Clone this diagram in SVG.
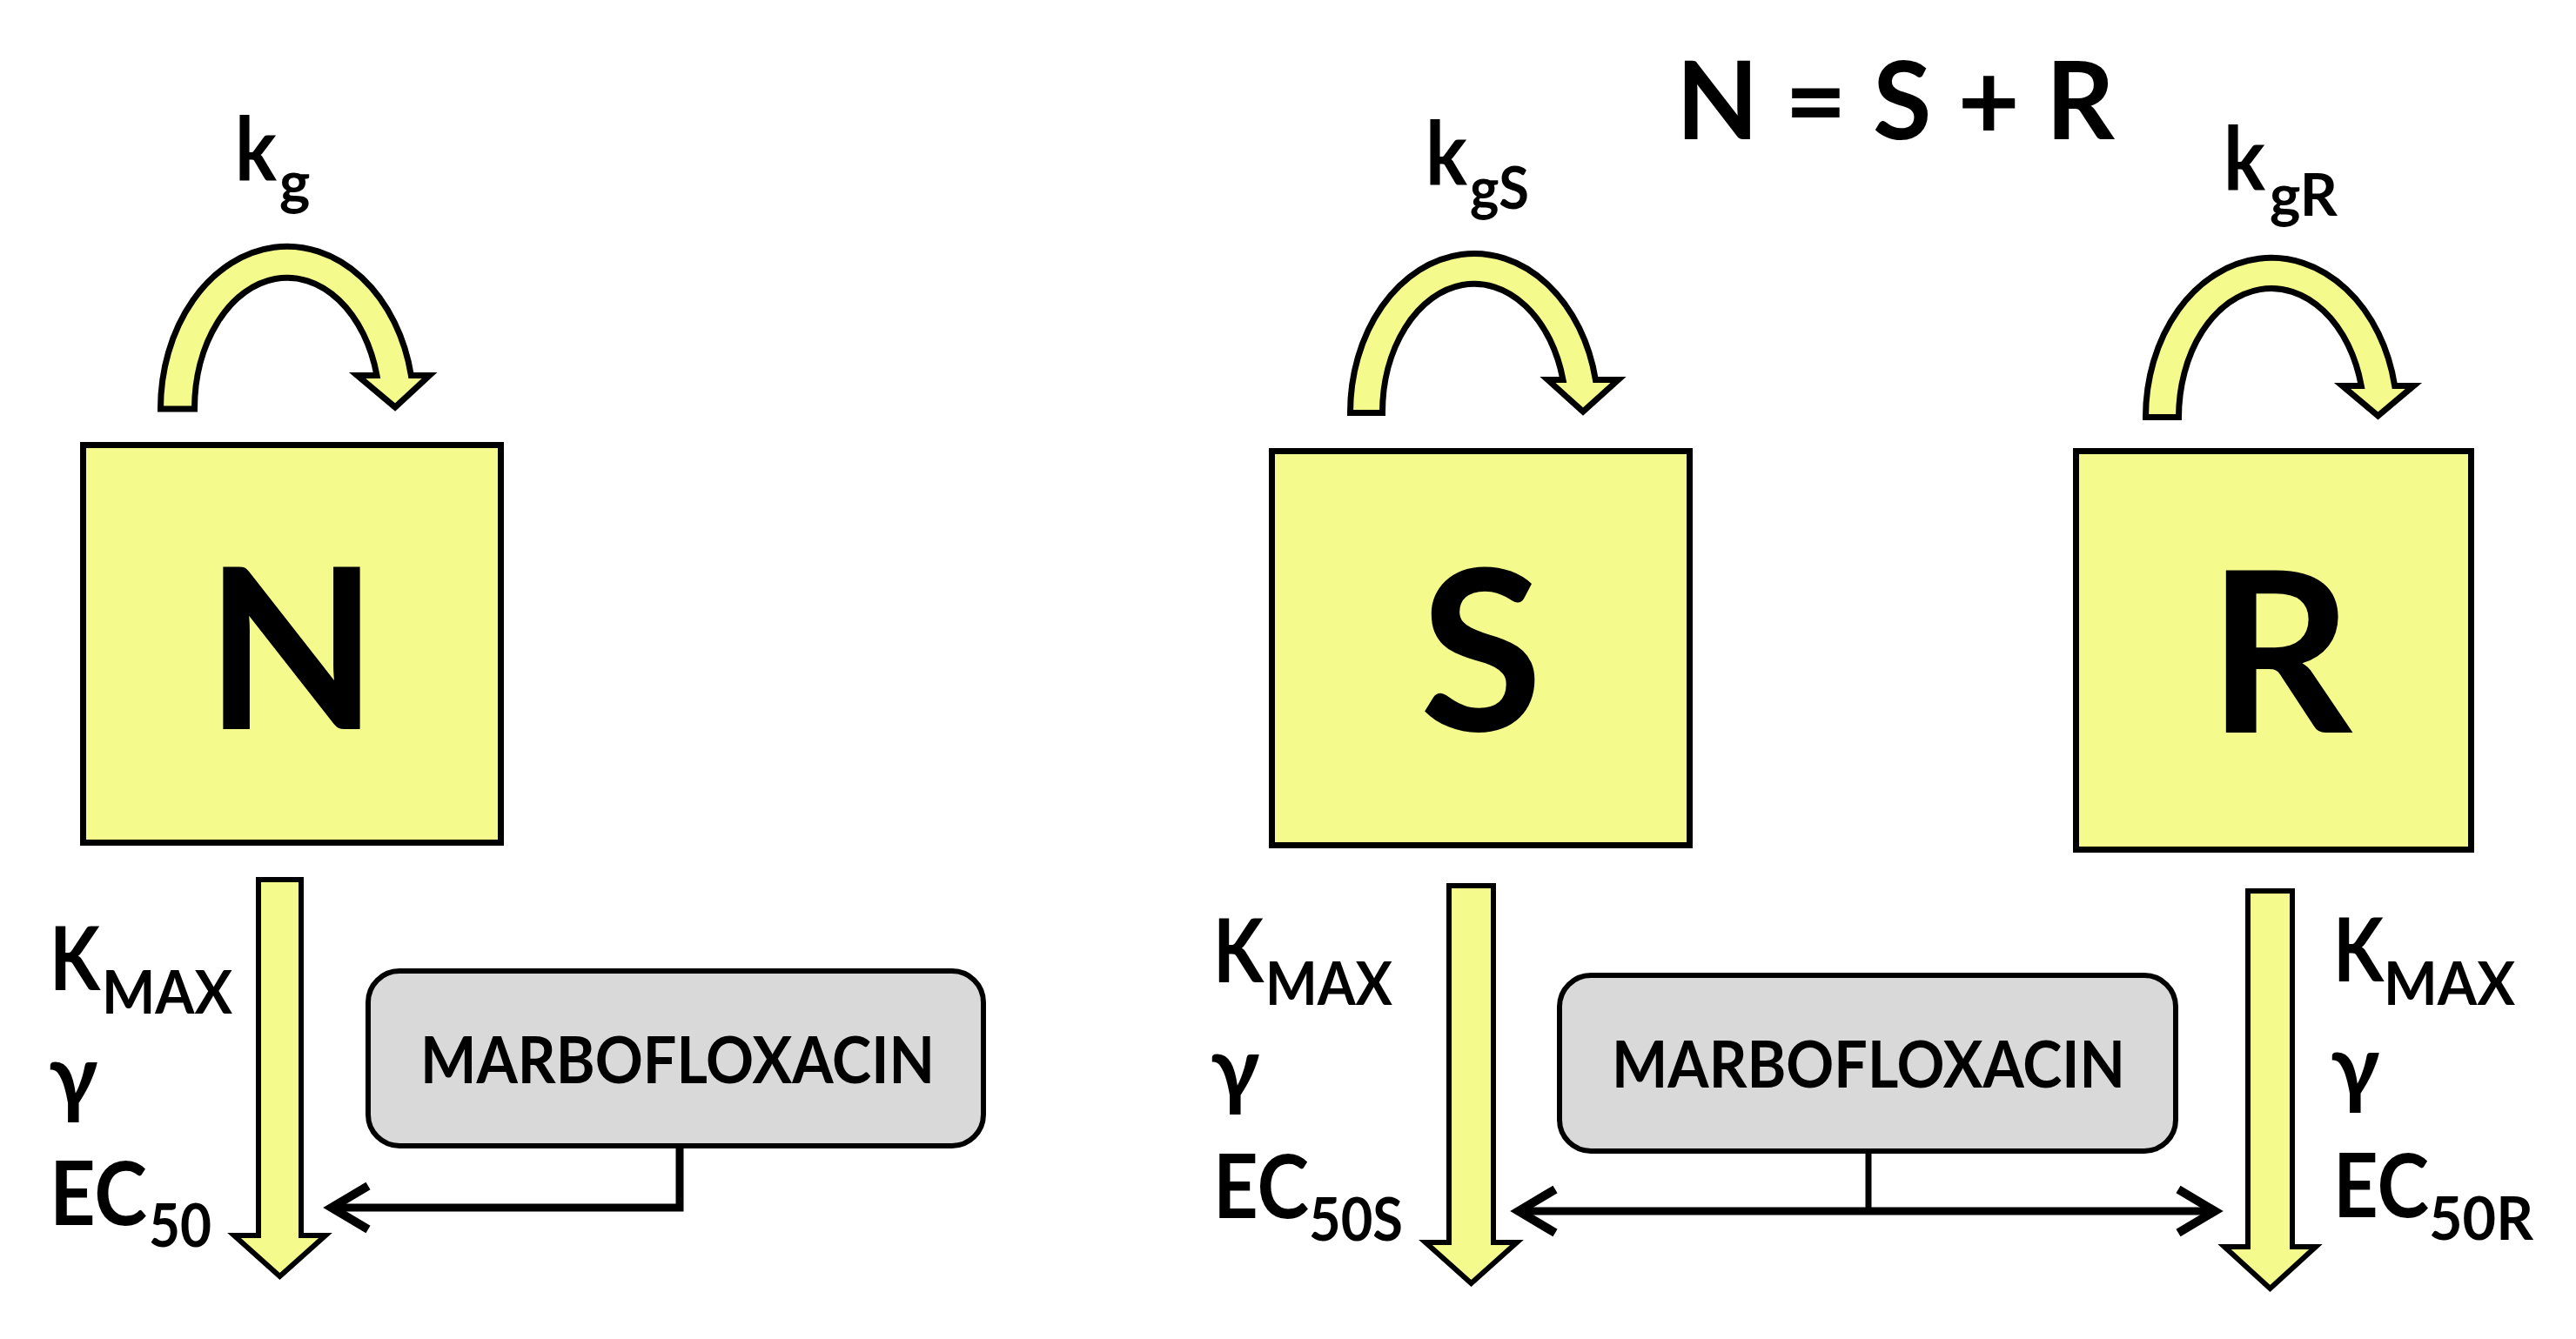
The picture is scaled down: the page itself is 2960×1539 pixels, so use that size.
<svg xmlns="http://www.w3.org/2000/svg" width="2960" height="1539" viewBox="0 0 2960 1539">
<style>
text{font-family:Lato,"Open Sans","Liberation Sans",sans-serif;font-weight:bold;fill:#000}
.box{fill:#F4FA8C;stroke:#000;stroke-width:7}
.big{font-size:258px;text-anchor:middle}
.arc{fill:#F4FA8C;stroke:#000;stroke-width:7;stroke-linejoin:miter}
.blk{fill:#F4FA8C;stroke:#000;stroke-width:6;stroke-linejoin:miter}
.drug{fill:#D9D9D9;stroke:#000;stroke-width:6}
.dtxt{font-size:74px}
.lbl{font-size:101px}
.sub{font-size:68px}
.k{font-size:102px}
.ksub{font-size:67px}
.con{fill:none;stroke:#000;stroke-width:9}
.stem{fill:none;stroke:#000;stroke-width:7}
</style>
<defs>
<marker id="chev" markerUnits="userSpaceOnUse" viewBox="-60 -40 80 80" markerWidth="80" markerHeight="80" refX="0" refY="0" orient="auto-start-reverse" overflow="visible">
<path d="M-42,-25 L0,0 L-42,25" fill="none" stroke="#000" stroke-width="10" stroke-linejoin="miter"/>
</marker>
</defs>
<text x="1926" y="160" font-size="125" textLength="504" lengthAdjust="spacingAndGlyphs">N = S + R</text>

<g id="node-N">
<rect class="box" x="95.5" y="511.5" width="480" height="457"/>
<text class="big" x="335" y="838">N</text>
</g>
<g id="node-S">
<rect class="box" x="1461.5" y="518.5" width="480" height="453"/>
<text class="big" x="1702" y="840">S</text>
</g>
<g id="node-R">
<rect class="box" x="2385.5" y="518.5" width="454" height="458"/>
<text class="big" x="2620" y="842">R</text>
</g>
<g id="drug-left">
<rect class="drug" x="423" y="1116" width="707" height="201" rx="36"/>
<text class="dtxt" x="483" y="1245" textLength="591" lengthAdjust="spacingAndGlyphs">MARBOFLOXACIN</text>
</g>
<g id="drug-right">
<rect class="drug" x="1792" y="1121" width="708" height="202" rx="36"/>
<text class="dtxt" x="1852" y="1250" textLength="590" lengthAdjust="spacingAndGlyphs">MARBOFLOXACIN</text>
</g>

<g id="connectors">
<path class="arc" d="M184.5,470 A145.5,186.5 0 0 1 472.4,431.5 L493.5,431.5 L454,468 L410.5,431.5 L433,431.5 A106.5,150.5 0 0 0 223.5,470 Z"/>
<path class="arc" d="M1551.5,474.5 A142.5,183 0 0 1 1833.4,436.5 L1859.5,436.5 L1819,473 L1778.5,436.5 L1796,436.5 A105.5,148 0 0 0 1588.5,474.5 Z"/>
<path class="arc" d="M2465.5,479.5 A144.5,183 0 0 1 2751.7,443.5 L2773.5,443.5 L2732.5,478 L2691.5,443.5 L2713.3,443.5 A106.5,148 0 0 0 2503.5,479.5 Z"/>

<polygon class="blk" points="297,1011 346,1011 346,1420 374,1420 321.5,1467 269,1420 297,1420"/>
<polygon class="blk" points="1665,1018 1716,1018 1716,1428 1743,1428 1690.5,1475 1638,1428 1665,1428"/>
<polygon class="blk" points="2583,1024 2634,1024 2634,1433 2661,1433 2608.5,1481 2556,1433 2583,1433"/>

<polyline class="con" points="781,1317 781,1388 381,1388" marker-end="url(#chev)"/>
<line class="stem" x1="2147" y1="1323" x2="2147" y2="1392"/>
<line class="con" x1="1745" y1="1392" x2="2545" y2="1392" marker-start="url(#chev)" marker-end="url(#chev)"/>
</g>

<g id="labels">
<g id="lbl-kg"><text class="k" x="270" y="207" textLength="48" lengthAdjust="spacingAndGlyphs">k</text><text class="ksub" x="321" y="233">g</text></g>
<g id="lbl-kgS"><text class="k" x="1638" y="212" textLength="48" lengthAdjust="spacingAndGlyphs">k</text><text class="ksub" x="1689" y="240" textLength="68" lengthAdjust="spacingAndGlyphs">gS</text></g>
<g id="lbl-kgR"><text class="k" x="2555" y="218" textLength="48" lengthAdjust="spacingAndGlyphs">k</text><text class="ksub" x="2608" y="248" textLength="78" lengthAdjust="spacingAndGlyphs">gR</text></g>

<g id="lbl-N-kmax"><text class="lbl" x="57" y="1138" textLength="58" lengthAdjust="spacingAndGlyphs">K</text><text class="sub" x="117" y="1165" textLength="150" lengthAdjust="spacingAndGlyphs">MAX</text></g>
<text class="lbl" x="56" y="1273">γ</text>
<g id="lbl-N-ec"><text class="lbl" x="57" y="1408" textLength="112" lengthAdjust="spacingAndGlyphs">EC</text><text class="sub" x="171" y="1433" textLength="72" lengthAdjust="spacingAndGlyphs">50</text></g>

<g id="lbl-S-kmax"><text class="lbl" x="1394" y="1129" textLength="58" lengthAdjust="spacingAndGlyphs">K</text><text class="sub" x="1454" y="1155" textLength="146" lengthAdjust="spacingAndGlyphs">MAX</text></g>
<text class="lbl" x="1391" y="1264">γ</text>
<g id="lbl-S-ec"><text class="lbl" x="1394" y="1400" textLength="110" lengthAdjust="spacingAndGlyphs">EC</text><text class="sub" x="1504" y="1426" textLength="108" lengthAdjust="spacingAndGlyphs">50S</text></g>

<g id="lbl-R-kmax"><text class="lbl" x="2681" y="1128" textLength="58" lengthAdjust="spacingAndGlyphs">K</text><text class="sub" x="2739" y="1155" textLength="151" lengthAdjust="spacingAndGlyphs">MAX</text></g>
<text class="lbl" x="2678" y="1262">γ</text>
<g id="lbl-R-ec"><text class="lbl" x="2681" y="1399" textLength="110" lengthAdjust="spacingAndGlyphs">EC</text><text class="sub" x="2791" y="1425" textLength="120" lengthAdjust="spacingAndGlyphs">50R</text></g>
</g>
</svg>
